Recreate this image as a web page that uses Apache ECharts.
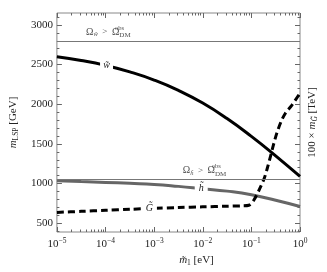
<!DOCTYPE html>
<html><head><meta charset="utf-8">
<script src="https://cdn.jsdelivr.net/npm/echarts@6/dist/echarts.min.js"></script>
<style>html,body{margin:0;padding:0;background:#fff}#c{width:327px;height:272px}</style>
</head><body><div id="c"></div>
<script>
// m1 grid (eV)
const m1 = [1e-5, 3.16e-5, 1e-4, 3.16e-4, 1e-3, 3.16e-3, 1e-2, 3.16e-2, 0.1, 0.316, 1];
// wino LSP mass [GeV]
const winoMass = [2600, 2552, 2490, 2408, 2305, 2175, 2015, 1820, 1595, 1350, 1090];
// higgsino LSP mass [GeV]
const higgsinoMass = [1035, 1025, 1015, 1003, 990, 965, 935, 905, 860, 790, 712];
// gravitino: 100 x m_G [TeV]
const m1G = [1e-5, 3.16e-5, 1e-4, 3.16e-4, 1e-3, 3.16e-3, 1e-2, 3.16e-2, 0.0631, 0.0891, 0.112, 0.151, 0.186, 0.214, 0.251, 0.288, 0.331, 0.407, 0.501, 0.676, 1];
const gravitinoMass = [637, 650, 663, 676, 688, 698, 707, 715, 720, 727, 790, 945, 1075, 1200, 1360, 1500, 1630, 1780, 1887, 1987, 2140];
// relic-density bounds
const omegaBounds = [2800, 1060];
// y tick values
const yMajor = [500, 1000, 1500, 2000, 2500, 3000];
const yMinor = [];
for (let v = 400; v <= 3100; v += 100) if (v % 500 !== 0) yMinor.push(v);
const xMajor = [1e-5, 1e-4, 1e-3, 1e-2, 1e-1, 1];
const xMinor = [];
for (let n = -5; n < 0; n++) for (let k = 2; k <= 9; k++) xMinor.push(+(k * Math.pow(10, n)).toPrecision(3));
// label anchors
const labW = [1.05e-4, 2487], labH = [9.3e-3, 937], labG = [8.0e-4, 686];
const labOmegaW = [3.98e-5, 2912], labOmegaH = [3.89e-3, 1162];

const F = '"Liberation Serif", "Times New Roman", serif';
const chart = echarts.init(document.getElementById('c'));
const pair = (xs, ys) => xs.map((x, i) => [x, ys[i]]);
const tickCol = '#666';
function xAx(pos, major, labels) {
  return {type: 'log', logBase: 10, min: 1e-5, max: 1, position: pos, offset: 0,
    axisLine: {show: false}, splitLine: {show: false},
    axisTick: {show: true, inside: true, length: major ? 5 : 2.5, customValues: major ? xMajor : xMinor, lineStyle: {color: tickCol}},
    axisLabel: labels ? {show: true, customValues: xMajor, margin: 5, color: '#222',
      formatter: v => '{b|10}{s|' + Math.round(Math.log10(v)).toString().replace('-', '−') + '}',
      rich: {b: {fontFamily: F, fontSize: 11, color: '#222'}, s: {fontFamily: F, fontSize: 7.5, color: '#222', padding: [0, 0, 7, 0]}}} : {show: false}
  };
}
function yAx(pos, major, labels) {
  return {type: 'value', min: 390, max: 3150, position: pos, offset: 0,
    axisLine: {show: false}, splitLine: {show: false},
    axisTick: {show: true, inside: true, length: major ? 5 : 2.5, customValues: major ? yMajor : yMinor, lineStyle: {color: tickCol}},
    axisLabel: labels ? {show: true, customValues: yMajor, margin: 4, fontFamily: F, fontSize: 11, color: '#222', formatter: v => String(v)} : {show: false}
  };
}
const xa0 = xAx('bottom', true, true);
xa0.name = '{i|m̃}{s|1}{r| [eV]}';
xa0.nameLocation = 'middle'; xa0.nameGap = 22;
xa0.nameTextStyle = {padding: [0, 0, 0, 36], rich: {i: {fontFamily: F, fontStyle: 'italic', fontSize: 11, color: '#222'}, s: {fontFamily: F, fontSize: 7.5, color: '#222', padding: [5, 0, 0, 0]}, r: {fontFamily: F, fontSize: 11, color: '#222'}}};
const ya0 = yAx('left', true, true);
ya0.name = '{i|m}{s|LSP}{r| [GeV]}';
ya0.nameLocation = 'middle'; ya0.nameRotate = 90; ya0.nameGap = 27;
ya0.nameTextStyle = {rich: {i: {fontFamily: F, fontStyle: 'italic', fontSize: 11, color: '#222'}, s: {fontFamily: F, fontSize: 7.5, color: '#222', padding: [5, 0, 0, 0]}, r: {fontFamily: F, fontSize: 11, color: '#222'}}};
const ya2 = yAx('right', true, false);
ya2.name = '{r|100 × }{i|m}{s|G̃}{r| [TeV]}';
ya2.nameLocation = 'middle'; ya2.nameRotate = 90; ya2.nameGap = 6;
ya2.nameTextStyle = {rich: {i: {fontFamily: F, fontStyle: 'italic', fontSize: 11, color: '#222'}, s: {fontFamily: F, fontStyle: 'italic', fontSize: 7.5, color: '#222', padding: [5, 0, 0, 0]}, r: {fontFamily: F, fontSize: 11, color: '#222'}}};

const markLabel = (pt, txt, w) => ({silent: true, symbol: 'rect', symbolSize: [w, 11], itemStyle: {color: '#fff'},
  label: {show: true, position: 'inside', fontFamily: F, fontStyle: 'italic', fontSize: 10, color: '#222'},
  data: [{coord: pt, value: txt}]});
const omegaRich = {o: {fontFamily: F, fontSize: 10, color: '#222'}, s: {fontFamily: F, fontStyle: 'italic', fontSize: 6.5, color: '#222', padding: [5, 0, 0, 0]}, t: {fontFamily: F, fontSize: 9, color: '#222'}, d: {fontFamily: F, fontSize: 7, color: '#222', padding: [6, 0, 0, 0]}};
const omegaLabel = (pt, sub) => [
  {type: 'scatter', xAxisIndex: 0, yAxisIndex: 0, symbolSize: 0, silent: true, data: [pt],
    label: {show: true, position: 'right', distance: 0, formatter: '{o|Ω}{s|' + sub + '}{t|  >  }{o|Ω}{d|DM}', rich: omegaRich}},
  {type: 'scatter', xAxisIndex: 0, yAxisIndex: 0, symbolSize: 0, silent: true, data: [pt],
    label: {show: true, position: 'right', distance: 0, offset: [29, -4], formatter: 'obs', fontFamily: F, fontSize: 6.5, color: '#222'}}
];

chart.setOption({
  animation: false,
  grid: {left: 41, right: 19, top: 13, bottom: 38, show: true, borderColor: '#888', borderWidth: 1, backgroundColor: 'transparent'},
  xAxis: [xa0, xAx('bottom', false, false), xAx('top', true, false), xAx('top', false, false)],
  yAxis: [ya0, yAx('left', false, false), ya2, yAx('right', false, false)],
  series: [
    {type: 'line', name: 'wino', xAxisIndex: 0, yAxisIndex: 0, data: pair(m1, winoMass), smooth: 0.5, symbol: 'none', lineStyle: {color: '#000', width: 3}, z: 3,
      markPoint: markLabel(labW, 'w̃', 13),
      markLine: {silent: true, symbol: 'none', label: {show: false}, lineStyle: {color: '#777', width: 1, type: 'solid'}, data: omegaBounds.map(v => ({yAxis: v}))}},
    {type: 'line', name: 'higgsino', xAxisIndex: 0, yAxisIndex: 0, data: pair(m1, higgsinoMass), smooth: 0.5, symbol: 'none', lineStyle: {color: '#666', width: 3}, z: 2,
      markPoint: markLabel(labH, 'h̃', 13)},
    {type: 'line', name: 'gravitino', xAxisIndex: 0, yAxisIndex: 0, data: pair(m1G, gravitinoMass), smooth: 0.3, symbol: 'none', lineStyle: {color: '#000', width: 3, type: [7, 4]}, z: 4,
      markPoint: markLabel(labG, 'G̃', 15)},
    ...omegaLabel(labOmegaW, 'w̃'), ...omegaLabel(labOmegaH, 'h̃')
  ]
});
</script></body></html>
